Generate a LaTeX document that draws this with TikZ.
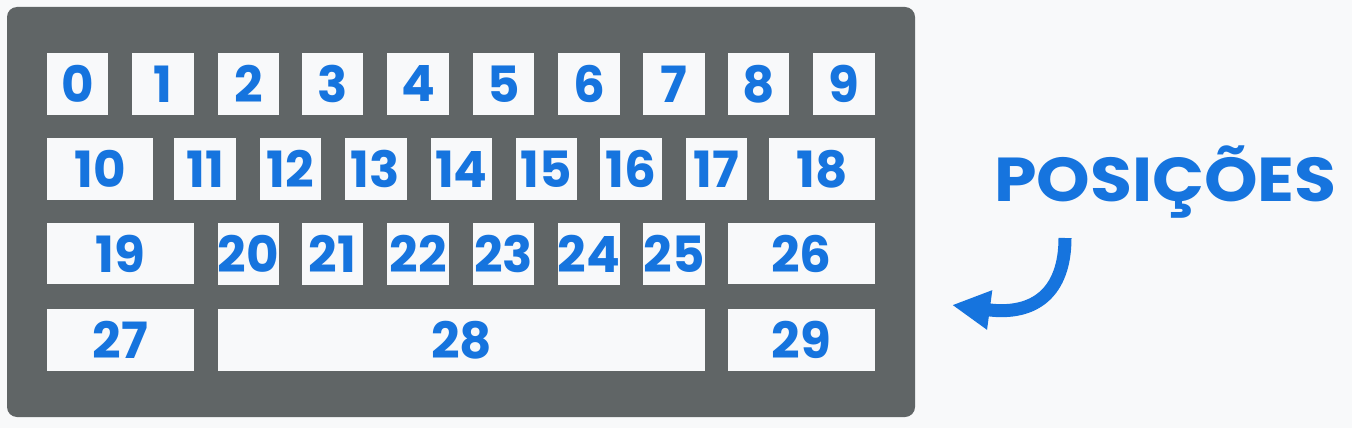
\documentclass[tikz,border=0pt]{standalone}
\usepackage{fontspec}
\setmainfont{Poppins}
\usetikzlibrary{arrows.meta}
\definecolor{pagebg}{RGB}{248,249,250}
\definecolor{boardgray}{RGB}{96,101,102}
\definecolor{keywhite}{RGB}{248,249,250}
\definecolor{keyblue}{RGB}{22,116,222}
\tikzset{
  keybox/.style={fill=keywhite, draw=none, inner sep=0pt, text=keyblue,
    font=\fontsize{50}{50}\selectfont\bfseries, anchor=center},
  k61/.style={keybox, minimum width=61pt, minimum height=62pt},
  k62/.style={keybox, minimum width=62pt, minimum height=62pt},
  board/.style={fill=boardgray, draw=none, rounded corners=10pt},
  title/.style={text=keyblue, inner sep=0pt, font=\fontsize{62}{62}\selectfont\bfseries},
  bluearrow/.style={draw=keyblue, line width=13pt, -{Triangle[length=38pt,width=37pt]}}
}
\begin{document}
\begin{tikzpicture}[x=1pt,y=-1pt]
\fill[pagebg] (0,0) rectangle (1352,428);
\useasboundingbox (0,0) rectangle (1352,428);
\fill[board] (7,7) rectangle (915,417);
% row 0
\node[k61] (k0) at (77.5,84) {0};
\node[k62] (k1) at (163,84) {1};
\node[k61] (k2) at (248.5,84) {2};
\node[k61] (k3) at (332.5,84) {3};
\node[k62] (k4) at (418,84) {4};
\node[k61] (k5) at (503.5,84) {5};
\node[k62] (k6) at (589,84) {6};
\node[k62] (k7) at (674,84) {7};
\node[k61] (k8) at (758.5,84) {8};
\node[k62] (k9) at (844,84) {9};
% row 1
\node[keybox, minimum width=106pt, minimum height=62pt] (k10) at (100,169) {10};
\node[k62] (k11) at (205,169) {11};
\node[k61] (k12) at (290.5,169) {12};
\node[k62] (k13) at (375.5,169) {13};
\node[k61] (k14) at (461.5,169) {14};
\node[k61] (k15) at (546,169) {15};
\node[k62] (k16) at (631,169) {16};
\node[k61] (k17) at (716.5,169) {17};
\node[keybox, minimum width=106pt, minimum height=62pt] (k18) at (822,169) {18};
% row 2
\node[keybox, minimum width=147pt, minimum height=61pt] (k19) at (120.5,253.5) {19};
\node[k61] (k20) at (248.5,253.5) {20};
\node[k61] (k21) at (332.5,253.5) {21};
\node[k62] (k22) at (418,253.5) {22};
\node[k61] (k23) at (503.5,253.5) {23};
\node[k62] (k24) at (589,253.5) {24};
\node[k62] (k25) at (674,253.5) {25};
\node[keybox, minimum width=147pt, minimum height=61pt] (k26) at (801.5,253.5) {26};
% row 3
\node[keybox, minimum width=147pt, minimum height=62pt] (k27) at (120.5,340) {27};
\node[keybox, minimum width=487pt, minimum height=62pt] (k28) at (461.5,340) {28};
\node[keybox, minimum width=147pt, minimum height=62pt] (k29) at (801.5,340) {29};
% title and arrow
\node[title, anchor=base, xscale=1.1, transform shape] (pos) at (1165.5,201) {POSIÇÕES};
\coordinate (arrS) at (1065,238);
\coordinate (arrE) at (952,305);
\draw[bluearrow] (arrS) .. controls (1065,292) and (1035,316) .. (arrE);
\end{tikzpicture}
\end{document}
